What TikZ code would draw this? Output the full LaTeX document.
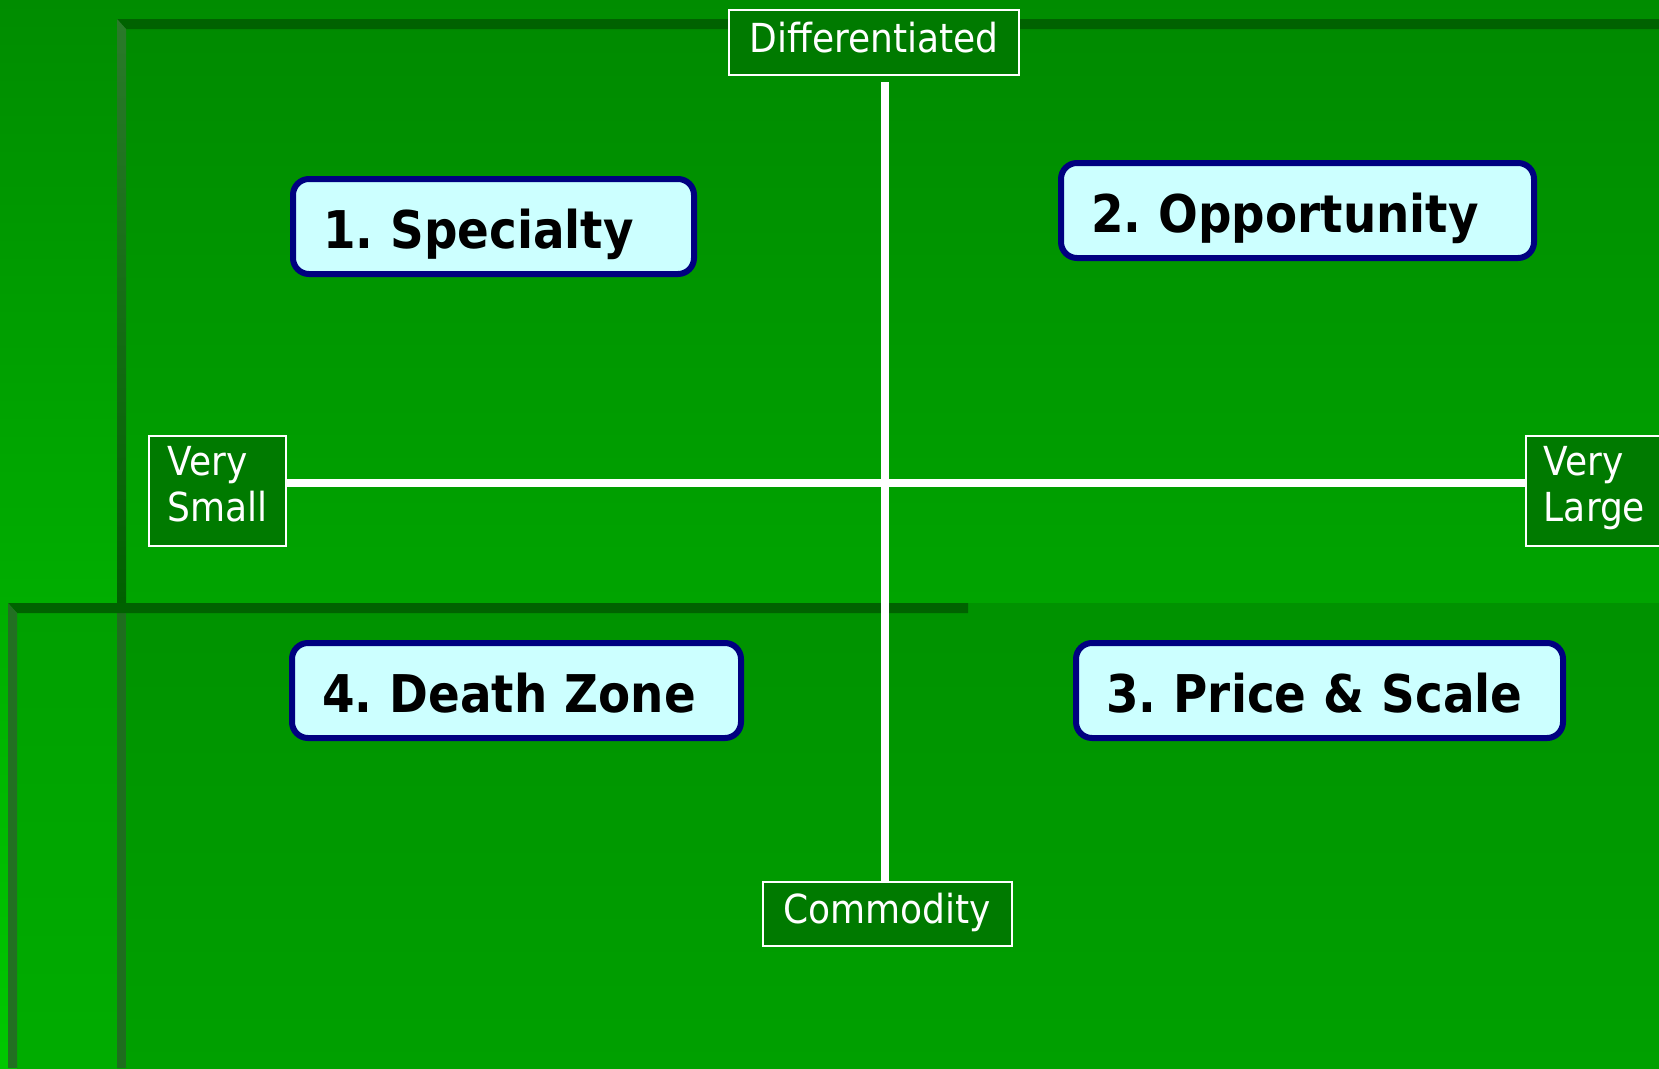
\documentclass[tikz,border=0pt]{standalone}
\usepackage{fontspec}
\setmainfont{DejaVu Sans Condensed}
\frenchspacing
\definecolor{navyc}{HTML}{000080}
\definecolor{quadfill}{HTML}{CCFFFF}
\definecolor{labelgreen}{HTML}{007A00}
\definecolor{bandgreen}{HTML}{006200}
\definecolor{bevelgreen}{HTML}{2A7A2A}
\definecolor{bgtop}{RGB}{0,140,0}
\definecolor{bgbot}{RGB}{0,200,0}
\definecolor{uptop}{RGB}{0,138,0}
\definecolor{upbot}{RGB}{0,164,0}
\definecolor{lotop}{RGB}{0,146,0}
\definecolor{lobot}{RGB}{0,160,0}
\definecolor{lltop}{RGB}{0,160,0}
\definecolor{llbot}{RGB}{0,172,0}
\definecolor{bevdark}{RGB}{0,96,0}
\definecolor{bevmid}{RGB}{30,110,30}
\definecolor{bevleft}{RGB}{34,112,34}
\tikzset{
  quad/.style={draw=navyc, line width=6pt, fill=quadfill, rounded corners=16pt,
    minimum height=95pt, text height=45pt, text depth=2pt, inner xsep=30pt, inner ysep=0pt,
    align=left, font=\fontsize{52}{60}\selectfont\bfseries, text=black},
  axlabel/.style={draw=white, line width=2pt, fill=labelgreen, text=white,
    font=\fontsize{40}{46}\selectfont, inner sep=0pt},
  axline/.style={draw=white, line width=8pt},
}
\begin{document}
\begin{tikzpicture}[x=1pt,y=-1pt]
\useasboundingbox (0,0) rectangle (1659,1068);
% background layers
\shade[top color=bgtop, bottom color=bgbot] (0,0) rectangle (1659,1068);
\shade[top color=uptop, bottom color=upbot] (117,19) rectangle (1659,603);
\shade[top color=lotop, bottom color=lobot] (117,603) rectangle (1659,1068);
\shade[top color=lltop, bottom color=llbot] (17,613) rectangle (117,1068);
\fill[bandgreen] (117,19) -- (1659,19) -- (1659,29) -- (126,29) -- cycle;
\shade[top color=bevelgreen, bottom color=bevdark] (117,19) -- (126,29) -- (126,603) -- (117,603) -- cycle;
\fill[bevmid] (117,613) rectangle (126,1068);
\fill[bandgreen] (8,603) -- (968,603) -- (968,613) -- (17,613) -- cycle;
\fill[bevleft] (8,603) -- (17,613) -- (17,1068) -- (8,1068) -- cycle;
% axis labels
\node[axlabel, minimum width=290pt, minimum height=65pt, text height=28pt, text depth=9pt] (diff) at (874,42.5) {Differentiated};
\node[axlabel, minimum width=249pt, minimum height=64pt, text height=28pt, text depth=9pt] (comm) at (887.5,914) {Commodity};
\node[axlabel, minimum width=137pt, minimum height=110pt, align=left] (vs) at (217.5,491) {Very\\Small\rule[-14pt]{0pt}{14pt}};
\node[axlabel, minimum width=137pt, minimum height=110pt, align=left] (vl) at (1594.5,491) {Very\\Large\rule[-14pt]{0pt}{14pt}};
% axes
\draw[axline] ([xshift=11pt,yshift=-6pt]diff.south) -- ([xshift=-2.5pt]comm.north);
\draw[axline, line width=7.5pt] ([yshift=8pt]vs.east) -- ([yshift=8pt]vl.west);
% quadrants
\node[quad, minimum width=401pt, text width=341pt] (spec) at (493.5,226.5) {1. Specialty};
\node[quad, minimum width=473pt, text width=413pt] (opp) at (1297.5,210.5) {2. Opportunity};
\node[quad, minimum width=449pt, text width=389pt] (death) at (516.5,690.5) {4. Death Zone};
\node[quad, minimum width=487pt, text width=427pt] (price) at (1319.5,690.5) {3. Price \& Scale};
\end{tikzpicture}
\end{document}
